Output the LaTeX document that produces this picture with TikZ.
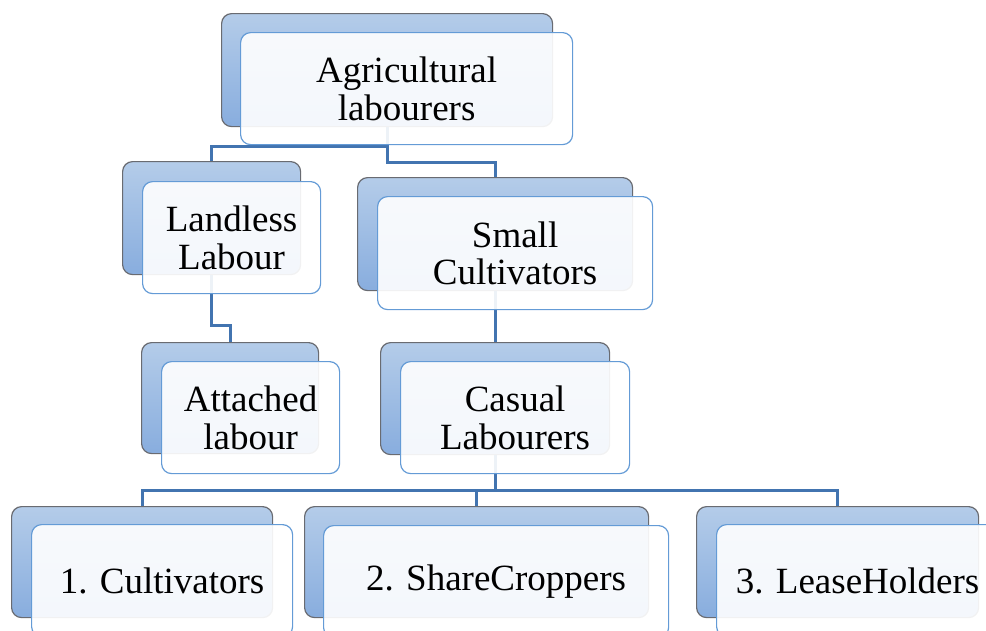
\documentclass[tikz,border=0pt]{standalone}
\usepackage{fontspec}
\setmainfont{Liberation Serif}
\newfontfamily\cardfont{Liberation Serif}
\definecolor{backtop}{RGB}{180,204,233}
\definecolor{backbot}{RGB}{136,173,222}
\definecolor{backedge}{RGB}{105,107,113}
\definecolor{frontedge}{RGB}{100,155,214}
\definecolor{linkblue}{RGB}{66,116,176}
\begin{document}
\begin{tikzpicture}[x=1pt,y=-1pt,
  backbox/.style={draw=backedge, line width=1.2pt, rounded corners=10pt,
    top color=backtop, bottom color=backbot, anchor=north west, inner sep=0pt},
  frontbox/.style={draw=frontedge, line width=1.2pt, rounded corners=10pt,
    fill=white, fill opacity=0.91, text opacity=1, anchor=north west,
    inner sep=0pt, align=center, font=\cardfont\fontsize{37}{37.5}\selectfont},
  link/.style={draw=linkblue, line width=3pt}
]
\useasboundingbox (0,0) rectangle (986,630);
\clip (0,0) rectangle (986,630);

% back (shaded) cards
\node[backbox, minimum width=331pt, minimum height=113pt] (agriB)  at (221,13)  {};
\node[backbox, minimum width=178pt, minimum height=113pt] (landB)  at (122,161) {};
\node[backbox, minimum width=177pt, minimum height=111pt] (attB)   at (141,342) {};
\node[backbox, minimum width=275pt, minimum height=113pt] (smallB) at (357,177) {};
\node[backbox, minimum width=229pt, minimum height=112pt] (casB)   at (380,342) {};
\node[backbox, minimum width=261pt, minimum height=111pt] (cultB)  at (11,506)  {};
\node[backbox, minimum width=344pt, minimum height=111pt] (shareB) at (304,506) {};
\node[backbox, minimum width=282pt, minimum height=111pt] (leaseB) at (696,506) {};

% elbow connectors between the back cards
\draw[link] (agriB.south) -- ++(0,19) -| (landB.north);
\draw[link] (agriB.south) -- ++(0,35) -| (smallB.north);
\draw[link] (landB.south) -- ++(0,50) -| (attB.north);
\draw[link] (smallB.south) -- (casB.north);
\draw[link] (casB.south) -- ++(0,35) -| (cultB.north);
\draw[link] (casB.south) -- ++(0,35) -| (shareB.north);
\draw[link] (casB.south) -- ++(0,35) -| (leaseB.north);

% front (text) cards
\node[frontbox, minimum width=332pt, minimum height=112pt] (agriF)  at (240,32)  {Agricultural\\labourers};
\node[frontbox, minimum width=178pt, minimum height=112pt] (landF)  at (142,181) {Landless\\Labour};
\node[frontbox, minimum width=178pt, minimum height=112pt] (attF)   at (161,361) {Attached\\labour};
\node[frontbox, minimum width=275pt, minimum height=113pt] (smallF) at (377,196) {Small\\Cultivators};
\node[frontbox, minimum width=229pt, minimum height=112pt] (casF)   at (400,361) {Casual\\Labourers};
\node[frontbox, minimum width=261pt, minimum height=112pt] (cultF)  at (31,524)  {1. Cultivators};
\node[frontbox, minimum width=345pt, minimum height=112pt] (shareF) at (323,525) {2. ShareCroppers};
\node[frontbox, minimum width=282pt, minimum height=112pt] (leaseF) at (716,524) {3. LeaseHolders};
\end{tikzpicture}
\end{document}
